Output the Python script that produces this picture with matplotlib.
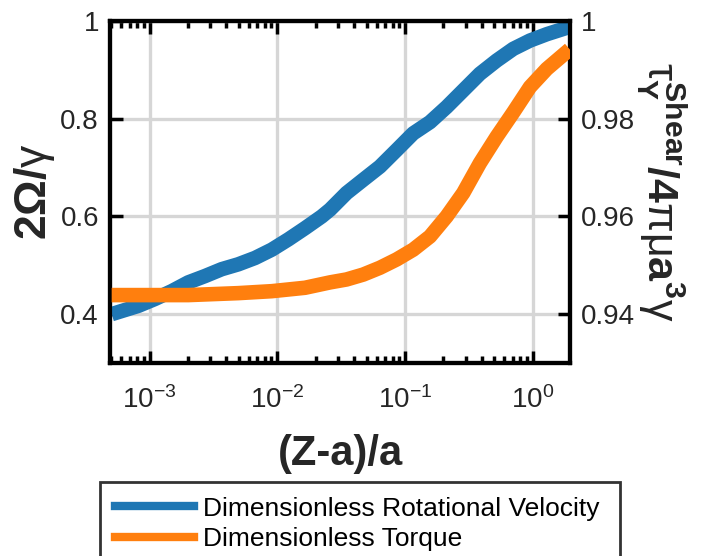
import math
import matplotlib
matplotlib.use("Agg")
import matplotlib.pyplot as plt
from matplotlib.lines import Line2D
from matplotlib.ticker import LogLocator, FixedLocator, FuncFormatter, NullFormatter

plt.rcParams['font.family'] = ['Liberation Sans', 'DejaVu Sans']
plt.rcParams['mathtext.fontset'] = 'custom'
plt.rcParams['mathtext.rm'] = 'Liberation Sans'
plt.rcParams['mathtext.it'] = 'Liberation Sans'
plt.rcParams['mathtext.bf'] = 'Liberation Sans:bold'

# gap ratio (Z-a)/a for the rotational velocity curve
gap_rot = [5.05e-4, 8.17e-4, 1.10e-3, 1.49e-3, 2.01e-3, 2.72e-3, 3.67e-3,
           4.95e-3, 6.70e-3, 9.06e-3, 1.22e-2, 1.65e-2, 2.23e-2, 2.59e-2,
           3.49e-2, 4.71e-2, 6.37e-2, 8.61e-2, 0.116, 0.157, 0.212, 0.286,
           0.386, 0.522, 0.705, 0.953, 1.29, 1.95]
# 2*Omega/gamma
rot_velocity = [0.400, 0.417, 0.431, 0.447, 0.465, 0.478, 0.492,
                0.502, 0.515, 0.532, 0.553, 0.576, 0.600, 0.614,
                0.648, 0.675, 0.702, 0.736, 0.770, 0.793, 0.824, 0.858,
                0.892, 0.919, 0.943, 0.960, 0.973, 0.988]

# gap ratio (Z-a)/a for the torque curve
gap_torque = [5.05e-4, 2.01e-3, 4.95e-3, 9.06e-3, 1.65e-2, 2.59e-2, 3.49e-2,
              4.71e-2, 6.37e-2, 8.61e-2, 0.116, 0.157, 0.212, 0.286, 0.386,
              0.522, 0.705, 0.953, 1.29, 1.95]
# tau / (4 pi mu a^3 gamma)
torque = [0.9439, 0.9439, 0.9443, 0.9447, 0.9454, 0.9465, 0.9471,
          0.9481, 0.9495, 0.9512, 0.9532, 0.9559, 0.9600, 0.9648, 0.9709,
          0.9763, 0.9813, 0.9865, 0.9902, 0.9942]

left_ticks = [0.4, 0.6, 0.8, 1.0]
left_labels = ['0.4', '0.6', '0.8', '1']
right_ticks = [0.94, 0.96, 0.98, 1.0]
right_labels = ['0.94', '0.96', '0.98', '1']
series_names = ['Dimensionless Rotational Velocity', 'Dimensionless Torque']

BLUE = '#1f77b4'
ORANGE = '#ff7f0e'
TXT = '#262626'
SPINE_W = 3.0

fig = plt.figure(figsize=(7.27, 5.56), dpi=100)
ax = fig.add_axes([110 / 727, 1 - 363 / 556, 460 / 727, 342 / 556])
ax2 = ax.twinx()

ax.plot(gap_rot, rot_velocity, color=BLUE, lw=10.5, solid_capstyle='butt',
        solid_joinstyle='round', zorder=3)
ax2.plot(gap_torque, torque, color=ORANGE, lw=10.5, solid_capstyle='butt',
         solid_joinstyle='round', zorder=3)

ax.set_xscale('log')
ax.set_xlim(4.9e-4, 1.96)
ax.set_ylim(0.3, 1.0)
ax2.set_ylim(0.93, 1.0)

ax.xaxis.set_major_locator(LogLocator(base=10, numticks=10))
ax.xaxis.set_minor_locator(LogLocator(base=10, subs=range(2, 10), numticks=20))
ax.xaxis.set_minor_formatter(NullFormatter())
ax.xaxis.set_major_formatter(FuncFormatter(
    lambda v, p: r'$\mathregular{10^{%d}}$' % round(math.log10(v))))

ax.yaxis.set_major_locator(FixedLocator(left_ticks))
ax.set_yticklabels(left_labels)
ax2.yaxis.set_major_locator(FixedLocator(right_ticks))
ax2.set_yticklabels(right_labels)

ax.grid(True, which='major', color='#d6d6d6', lw=2.4, zorder=0)
ax.set_axisbelow(True)

ax.tick_params(axis='x', which='major', direction='in', length=9, width=2.5,
               top=True, bottom=True, labelsize=20, colors='black',
               labelcolor=TXT, pad=17)
ax.tick_params(axis='x', which='minor', direction='in', length=5, width=2.5,
               top=True, bottom=True)
ax.tick_params(axis='y', which='major', direction='in', length=9, width=2.5,
               labelsize=20, labelcolor=TXT, pad=8)
ax2.tick_params(axis='y', which='major', direction='in', length=9, width=2.5,
                labelsize=20, labelcolor=TXT, pad=8)

for a in (ax, ax2):
    for s in a.spines.values():
        s.set_linewidth(SPINE_W)
        s.set_color('black')

ax.set_xlabel('(Z-a)/a', fontsize=30, fontweight='bold', color=TXT, labelpad=14)
ax.set_ylabel(r'$\mathbf{2\Omega/}\gamma$', fontsize=32, color=TXT, labelpad=2)
ax2.set_ylabel(r'$\tau_{\mathbf{Y}}^{\mathbf{Shear}}\mathbf{/4}\pi\mu\mathbf{a}^{\mathbf{3}}\gamma$',
               fontsize=31, color=TXT, rotation=-90, labelpad=38)

handles = [Line2D([], [], color=BLUE, lw=6), Line2D([], [], color=ORANGE, lw=6)]
leg = fig.legend(handles, series_names, loc='upper left',
                 bbox_to_anchor=(100 / 727, 0, 520 / 727, 1 - 482 / 556),
                 mode='expand', fontsize=19, handlelength=3.0,
                 handletextpad=0.35, labelspacing=0.25, borderaxespad=0,
                 borderpad=0.55, fancybox=False, framealpha=1)
leg.get_frame().set_edgecolor('#333333')
leg.get_frame().set_linewidth(2.0)

fig.savefig('out.png', dpi=100, facecolor='white')
